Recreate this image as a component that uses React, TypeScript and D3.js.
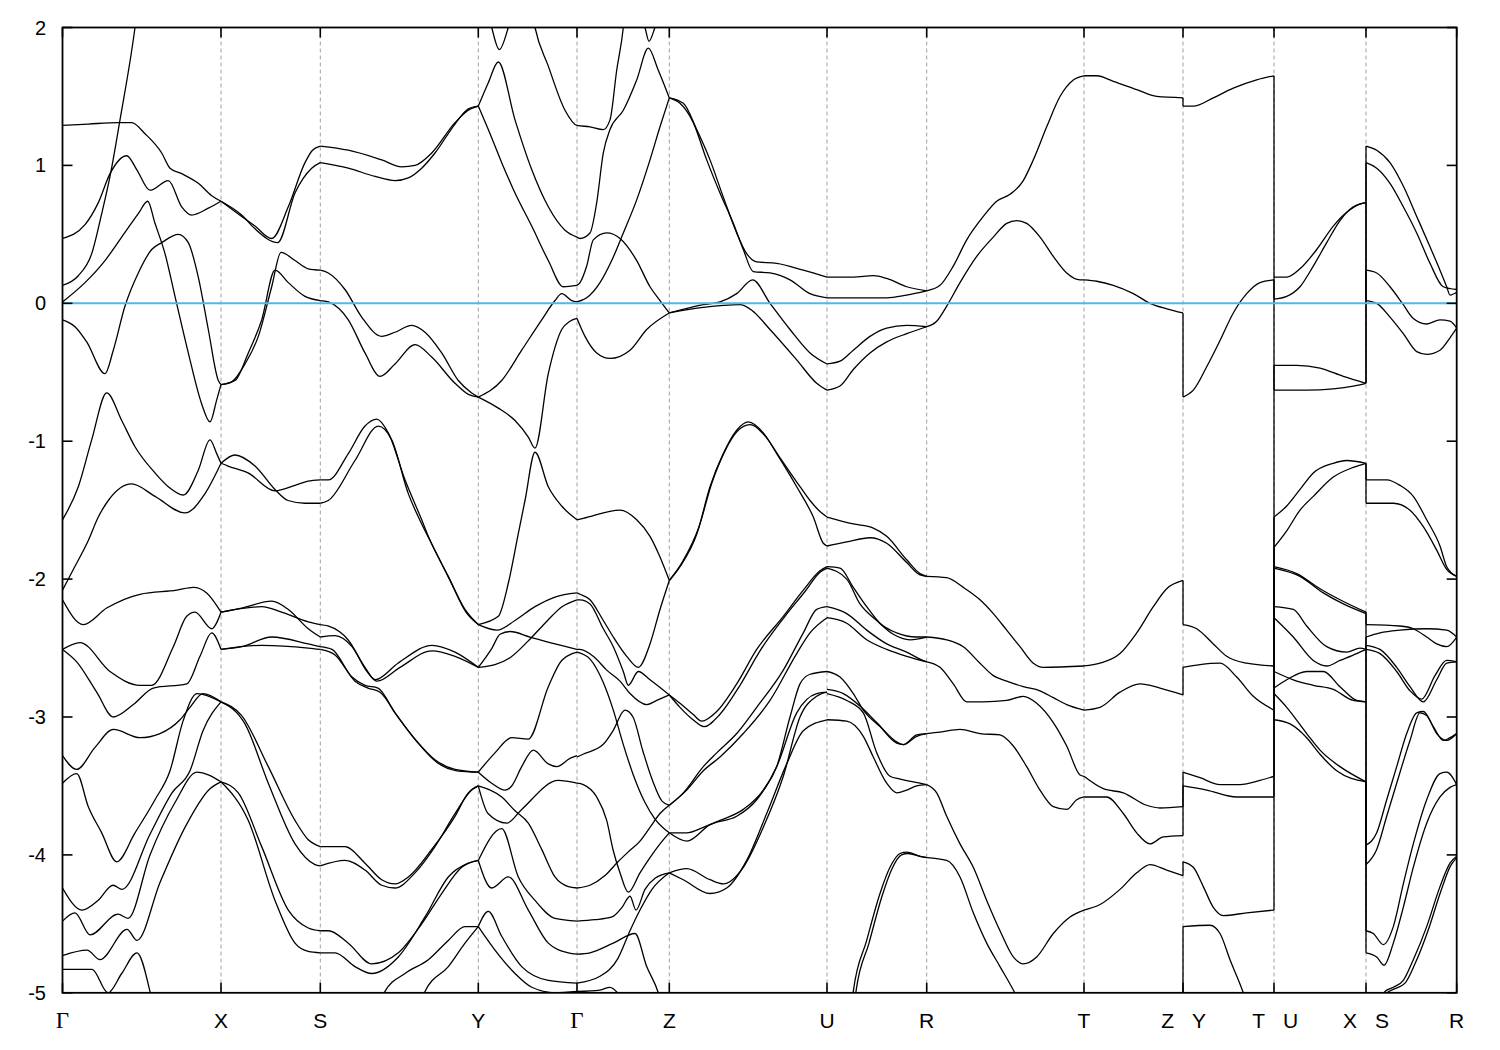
import React from 'react';
import * as d3 from 'd3';

type P = [number, number];

// high-symmetry path (k-distance) and labels
const kPoints = [0, 1.585, 2.578, 4.158, 5.145, 6.068, 7.645, 8.642, 10.215, 11.205, 12.115, 13.035, 13.942];
const kNames = ['Γ', 'X', 'S', 'Y', 'Γ', 'Z', 'U', 'R', 'T', 'Z|Y', 'T|U', 'X|S', 'R'];
const yTicks = [-5, -4, -3, -2, -1, 0, 1, 2];
const fermiLevel = 0;

// Γ - X
const bandsGX: P[][] = [
  [[0,1.29],[0.258,1.30],[0.558,1.31],[0.692,1.31],[0.825,1.23],[0.992,1.09],[1.075,0.98],[1.192,0.94],[1.358,0.87],[1.492,0.78],[1.585,0.74]],
  [[0,0.47],[0.225,0.57],[0.358,0.73],[0.475,0.94],[0.642,1.07],[0.742,0.97],[0.875,0.82],[1.058,0.89],[1.192,0.70],[1.292,0.64],[1.458,0.69],[1.585,0.74]],
  [[0,0.13],[0.158,0.20],[0.292,0.36],[0.392,0.65],[0.475,0.92],[0.575,1.33],[0.725,2.0],[0.80,2.45]],
  [[0,0.01],[0.225,0.15],[0.425,0.31],[0.592,0.48],[0.758,0.65],[0.852,0.74],[0.925,0.58],[1.025,0.36],[1.125,0.05],[1.258,-0.36],[1.392,-0.73],[1.475,-0.86],[1.542,-0.70],[1.585,-0.59]],
  [[0,-0.12],[0.125,-0.17],[0.242,-0.28],[0.425,-0.51],[0.508,-0.34],[0.625,-0.02],[0.758,0.22],[0.892,0.39],[0.992,0.44],[1.158,0.50],[1.258,0.44],[1.358,0.19],[1.458,-0.19],[1.558,-0.56],[1.585,-0.59]],
  [[0,-1.57],[0.158,-1.33],[0.292,-0.99],[0.442,-0.65],[0.592,-0.85],[0.725,-1.04],[0.925,-1.23],[1.058,-1.33],[1.208,-1.39],[1.358,-1.21],[1.475,-0.99],[1.542,-1.09],[1.585,-1.16]],
  [[0,-2.08],[0.108,-1.93],[0.258,-1.72],[0.358,-1.55],[0.458,-1.43],[0.692,-1.31],[0.925,-1.40],[1.225,-1.52],[1.425,-1.38],[1.585,-1.16]],
  [[0,-2.15],[0.208,-2.33],[0.442,-2.21],[0.775,-2.11],[1.142,-2.08],[1.308,-2.06],[1.442,-2.10],[1.585,-2.24]],
  [[0,-2.51],[0.175,-2.46],[0.475,-2.67],[0.775,-2.77],[0.892,-2.77],[1.108,-2.49],[1.242,-2.27],[1.325,-2.24],[1.492,-2.36],[1.585,-2.24]],
  [[0,-2.51],[0.142,-2.60],[0.342,-2.82],[0.508,-3.00],[0.708,-2.91],[0.908,-2.79],[1.242,-2.76],[1.375,-2.56],[1.492,-2.39],[1.585,-2.51]],
  [[0,-3.28],[0.142,-3.38],[0.325,-3.22],[0.508,-3.09],[0.775,-3.15],[0.975,-3.12],[1.175,-3.02],[1.275,-2.93],[1.405,-2.83],[1.585,-2.89]],
  [[0,-3.48],[0.142,-3.41],[0.258,-3.65],[0.392,-3.84],[0.542,-4.05],[0.725,-3.84],[0.925,-3.60],[1.075,-3.39],[1.205,-3.03],[1.345,-2.83],[1.585,-2.89]],
  [[0,-4.24],[0.195,-4.40],[0.355,-4.33],[0.505,-4.22],[0.595,-4.25],[0.875,-3.85],[1.095,-3.55],[1.275,-3.39],[1.405,-3.10],[1.585,-2.89]],
  [[0,-4.48],[0.125,-4.42],[0.275,-4.58],[0.555,-4.43],[0.655,-4.46],[0.875,-4.00],[1.125,-3.62],[1.345,-3.40],[1.585,-3.47]],
  [[0,-4.73],[0.245,-4.69],[0.375,-4.76],[0.645,-4.54],[0.745,-4.62],[0.975,-4.20],[1.225,-3.80],[1.475,-3.52],[1.585,-3.47]],
  [[0,-4.83],[0.295,-4.83],[0.455,-5.00],[0.592,-4.86],[0.745,-4.71],[0.895,-5.05],[0.975,-5.3]],
];

// X - S
const bandsXS: P[][] = [
  [[1.585,0.74],[1.792,0.63],[1.925,0.56],[2.092,0.47],[2.258,0.70],[2.425,1.02],[2.50,1.11],[2.578,1.14]],
  [[1.585,0.74],[1.792,0.64],[1.925,0.54],[2.152,0.44],[2.325,0.80],[2.492,0.98],[2.578,1.02]],
  [[1.585,-0.59],[1.692,-0.57],[1.825,-0.44],[1.958,-0.24],[2.092,0.12],[2.185,0.37],[2.325,0.31],[2.458,0.25],[2.578,0.24]],
  [[1.585,-0.59],[1.725,-0.56],[1.858,-0.36],[1.992,-0.12],[2.125,0.24],[2.258,0.15],[2.425,0.05],[2.578,0.02]],
  [[1.585,-1.16],[1.725,-1.10],[1.925,-1.18],[2.125,-1.35],[2.255,-1.43],[2.425,-1.45],[2.578,-1.45]],
  [[1.585,-1.16],[1.655,-1.18],[1.855,-1.23],[2.125,-1.36],[2.325,-1.32],[2.455,-1.29],[2.578,-1.28]],
  [[1.585,-2.24],[1.792,-2.21],[2.092,-2.16],[2.258,-2.22],[2.458,-2.36],[2.578,-2.42]],
  [[1.585,-2.24],[1.992,-2.20],[2.192,-2.24],[2.458,-2.31],[2.578,-2.33]],
  [[1.585,-2.51],[1.792,-2.49],[2.092,-2.42],[2.458,-2.47],[2.578,-2.49]],
  [[1.585,-2.51],[1.992,-2.48],[2.458,-2.50],[2.578,-2.51]],
  [[1.585,-2.89],[1.792,-2.99],[2.058,-3.36],[2.325,-3.75],[2.458,-3.89],[2.578,-3.94]],
  [[1.585,-2.89],[1.825,-3.05],[2.058,-3.48],[2.325,-3.92],[2.525,-4.07],[2.578,-4.08]],
  [[1.585,-3.47],[1.758,-3.55],[1.992,-3.94],[2.258,-4.40],[2.458,-4.53],[2.578,-4.55]],
  [[1.585,-3.47],[1.858,-3.75],[2.125,-4.33],[2.325,-4.64],[2.458,-4.70],[2.578,-4.71]],
];

// S - Y
const bandsSY: P[][] = [
  [[2.578,1.14],[2.858,1.11],[3.192,1.04],[3.392,0.99],[3.525,1.00],[3.692,1.09],[3.925,1.31],[4.058,1.40],[4.158,1.43]],
  [[2.578,1.02],[2.858,0.98],[3.125,0.92],[3.325,0.89],[3.458,0.91],[3.592,0.98],[3.725,1.09],[3.925,1.30],[4.058,1.41],[4.158,1.43]],
  [[2.578,0.24],[2.658,0.22],[2.825,0.10],[2.992,-0.10],[3.192,-0.24],[3.325,-0.21],[3.492,-0.16],[3.625,-0.21],[3.792,-0.36],[3.958,-0.56],[4.092,-0.65],[4.158,-0.68]],
  [[2.578,0.02],[2.658,0.01],[2.858,-0.12],[3.025,-0.36],[3.175,-0.53],[3.325,-0.44],[3.525,-0.30],[3.692,-0.39],[3.925,-0.58],[4.058,-0.66],[4.158,-0.68]],
  [[2.578,-1.28],[2.658,-1.28],[2.858,-1.09],[3.025,-0.89],[3.142,-0.84],[3.258,-0.94],[3.425,-1.28],[3.592,-1.57],[3.658,-1.69],[3.858,-1.98],[4.025,-2.22],[4.158,-2.33]],
  [[2.578,-1.45],[2.658,-1.43],[2.925,-1.14],[3.158,-0.89],[3.292,-0.99],[3.458,-1.38],[3.592,-1.60],[3.675,-1.72],[3.875,-2.01],[4.035,-2.24],[4.158,-2.33]],
  [[2.578,-2.33],[2.655,-2.34],[2.855,-2.44],[3.025,-2.64],[3.125,-2.73],[3.355,-2.61],[3.695,-2.48],[3.925,-2.53],[4.158,-2.64]],
  [[2.578,-2.42],[2.725,-2.41],[2.895,-2.49],[3.055,-2.68],[3.145,-2.74],[3.375,-2.64],[3.695,-2.52],[3.925,-2.56],[4.158,-2.64]],
  [[2.578,-2.49],[2.695,-2.51],[2.895,-2.71],[3.025,-2.77],[3.155,-2.79],[3.325,-2.97],[3.525,-3.16],[3.725,-3.31],[3.925,-3.38],[4.158,-3.40]],
  [[2.578,-2.51],[2.725,-2.55],[2.925,-2.74],[3.055,-2.79],[3.175,-2.82],[3.345,-2.99],[3.545,-3.18],[3.745,-3.33],[3.945,-3.39],[4.158,-3.40]],
  [[2.578,-3.94],[2.825,-3.94],[3.025,-4.06],[3.192,-4.18],[3.325,-4.21],[3.458,-4.16],[3.692,-3.96],[3.925,-3.72],[4.058,-3.55],[4.158,-3.50]],
  [[2.578,-4.08],[2.825,-4.04],[3.025,-4.11],[3.192,-4.22],[3.325,-4.24],[3.525,-4.13],[3.725,-3.94],[3.925,-3.70],[4.092,-3.53],[4.158,-3.50]],
  [[2.578,-4.55],[2.658,-4.55],[2.858,-4.64],[3.092,-4.79],[3.358,-4.71],[3.592,-4.50],[3.792,-4.28],[3.992,-4.09],[4.158,-4.04]],
  [[2.578,-4.71],[2.725,-4.71],[2.925,-4.81],[3.092,-4.86],[3.358,-4.74],[3.625,-4.45],[3.858,-4.16],[4.058,-4.06],[4.158,-4.04]],
  [[3.175,-5.1],[3.225,-4.99],[3.425,-4.86],[3.658,-4.76],[3.858,-4.62],[4.025,-4.52],[4.158,-4.52]],
  [[3.575,-5.1],[3.625,-4.99],[3.858,-4.81],[4.025,-4.64],[4.158,-4.52]],
];

// Y - Γ
const bandsYG: P[][] = [
  [[4.158,1.43],[4.258,1.26],[4.392,1.02],[4.525,0.80],[4.692,0.56],[4.858,0.31],[5.008,0.12],[5.145,0.13]],
  [[4.158,1.43],[4.258,1.60],[4.358,1.75],[4.525,1.33],[4.692,0.97],[4.858,0.70],[5.025,0.53],[5.145,0.48]],
  [[4.20,2.3],[4.292,2.0],[4.368,1.84],[4.458,2.0],[4.55,2.25]],
  [[4.675,2.2],[4.725,2.0],[4.858,1.72],[5.025,1.40],[5.145,1.29],[5.275,1.28],[5.408,1.26],[5.475,1.33],[5.542,1.69],[5.608,2.0],[5.645,2.3]],
  [[4.158,-0.68],[4.392,-0.56],[4.592,-0.34],[4.792,-0.12],[4.925,0.02],[4.992,0.07],[5.092,0.02],[5.145,0.01]],
  [[4.158,-0.68],[4.358,-0.76],[4.525,-0.85],[4.658,-0.97],[4.725,-1.05],[4.858,-0.51],[4.992,-0.19],[5.075,-0.13],[5.145,-0.11]],
  [[4.158,-2.33],[4.358,-2.27],[4.458,-2.03],[4.558,-1.67],[4.625,-1.43],[4.725,-1.08],[4.858,-1.33],[4.992,-1.47],[5.145,-1.57]],
  [[4.158,-2.33],[4.345,-2.37],[4.525,-2.30],[4.725,-2.20],[4.925,-2.13],[5.145,-2.10]],
  [[4.158,-2.64],[4.295,-2.50],[4.375,-2.40],[4.475,-2.38],[4.675,-2.42],[4.925,-2.47],[5.145,-2.51]],
  [[4.158,-2.64],[4.325,-2.62],[4.475,-2.57],[4.655,-2.45],[4.825,-2.32],[4.995,-2.20],[5.145,-2.15]],
  [[4.158,-3.40],[4.325,-3.26],[4.492,-3.15],[4.658,-3.16],[4.858,-2.78],[4.992,-2.59],[5.145,-2.53]],
  [[4.158,-3.40],[4.292,-3.48],[4.425,-3.53],[4.492,-3.50],[4.592,-3.36],[4.708,-3.24],[4.858,-3.34],[4.942,-3.36],[5.075,-3.30],[5.145,-3.28]],
  [[4.158,-3.50],[4.392,-3.58],[4.525,-3.68],[4.658,-3.77],[4.792,-3.96],[4.925,-4.16],[5.058,-4.23],[5.145,-4.24]],
  [[4.158,-3.50],[4.255,-3.70],[4.442,-3.77],[4.592,-3.67],[4.958,-3.46],[5.145,-3.48]],
  [[4.158,-4.04],[4.392,-3.81],[4.558,-4.16],[4.725,-4.33],[4.925,-4.46],[5.145,-4.48]],
  [[4.158,-4.04],[4.292,-4.24],[4.458,-4.16],[4.658,-4.40],[4.858,-4.64],[5.058,-4.71],[5.145,-4.72]],
  [[4.158,-4.52],[4.258,-4.41],[4.392,-4.59],[4.592,-4.81],[4.858,-4.91],[5.145,-4.93]],
  [[4.158,-4.52],[4.325,-4.69],[4.525,-4.86],[4.692,-4.96],[4.925,-5.0],[5.145,-4.99]],
];

// Γ - Z
const bandsGZ: P[][] = [
  [[5.76,2.15],[5.825,2.0],[5.865,1.90],[5.925,2.0],[5.99,2.12]],
  [[5.145,0.48],[5.175,0.47],[5.275,0.51],[5.342,0.73],[5.408,1.09],[5.475,1.26],[5.608,1.40],[5.742,1.62],[5.858,1.85],[5.958,1.69],[6.068,1.49]],
  [[5.145,0.13],[5.175,0.15],[5.242,0.27],[5.308,0.46],[5.442,0.51],[5.575,0.47],[5.742,0.31],[5.875,0.12],[5.975,0.02],[6.068,-0.07]],
  [[5.145,0.01],[5.242,0.04],[5.375,0.15],[5.492,0.31],[5.608,0.51],[5.742,0.75],[5.875,1.04],[5.975,1.28],[6.068,1.49]],
  [[5.145,-0.11],[5.225,-0.24],[5.342,-0.36],[5.475,-0.40],[5.675,-0.34],[5.842,-0.19],[6.068,-0.07]],
  [[5.145,-1.57],[5.208,-1.56],[5.575,-1.50],[5.742,-1.57],[5.875,-1.69],[5.975,-1.84],[6.068,-2.01]],
  [[5.145,-2.10],[5.175,-2.11],[5.275,-2.15],[5.408,-2.30],[5.508,-2.42],[5.642,-2.56],[5.758,-2.64],[5.875,-2.47],[5.975,-2.22],[6.068,-2.01]],
  [[5.145,-2.15],[5.175,-2.15],[5.275,-2.18],[5.408,-2.36],[5.508,-2.49],[5.608,-2.67],[5.658,-2.77],[5.758,-2.67],[5.875,-2.73],[6.068,-2.84]],
  [[5.145,-2.51],[5.175,-2.51],[5.308,-2.56],[5.442,-2.66],[5.575,-2.74],[5.675,-2.83],[5.842,-2.91],[5.942,-2.88],[6.068,-2.84]],
  [[5.145,-2.53],[5.275,-2.58],[5.408,-2.75],[5.508,-2.95],[5.608,-3.20],[5.708,-3.42],[5.825,-3.62],[5.925,-3.74],[6.068,-3.84]],
  [[5.145,-3.29],[5.205,-3.27],[5.405,-3.20],[5.505,-3.10],[5.625,-2.95],[5.705,-3.00],[5.805,-3.25],[5.905,-3.47],[5.995,-3.61],[6.068,-3.64]],
  [[5.145,-3.48],[5.208,-3.49],[5.342,-3.58],[5.442,-3.75],[5.508,-3.97],[5.575,-4.13],[5.658,-4.27],[5.775,-4.13],[5.875,-4.02],[5.975,-3.92],[6.068,-3.84]],
  [[5.145,-4.24],[5.275,-4.22],[5.425,-4.15],[5.555,-4.05],[5.655,-3.98],[5.775,-3.90],[5.875,-3.80],[5.975,-3.70],[6.068,-3.64]],
  [[5.145,-4.48],[5.325,-4.47],[5.495,-4.45],[5.595,-4.38],[5.675,-4.30],[5.735,-4.40],[5.825,-4.25],[5.925,-4.17],[6.068,-4.13]],
  [[5.145,-4.72],[5.275,-4.71],[5.508,-4.64],[5.725,-4.57],[5.842,-4.81],[5.958,-5.0],[6.03,-5.2]],
  [[5.145,-4.93],[5.375,-4.88],[5.555,-4.75],[5.675,-4.55],[5.775,-4.40],[5.895,-4.25],[6.068,-4.13]],
  [[5.145,-4.99],[5.375,-4.98],[5.475,-4.96],[5.575,-5.02],[5.70,-5.15]],
];

// Z - U
const bandsZU: P[][] = [
  [[6.068,1.49],[6.208,1.45],[6.342,1.26],[6.475,1.04],[6.608,0.77],[6.742,0.51],[6.842,0.36],[6.942,0.30],[7.142,0.29],[7.408,0.24],[7.645,0.19]],
  [[6.068,1.49],[6.175,1.45],[6.308,1.31],[6.442,1.04],[6.575,0.80],[6.708,0.58],[6.808,0.39],[6.908,0.23],[7.075,0.22],[7.275,0.17],[7.475,0.07],[7.645,0.04]],
  [[6.068,-0.07],[6.408,-0.01],[6.575,0.01],[6.742,0.07],[6.902,0.17],[7.075,0.0],[7.275,-0.19],[7.475,-0.36],[7.645,-0.44]],
  [[6.068,-0.07],[6.408,-0.03],[6.775,-0.01],[6.892,-0.05],[7.075,-0.19],[7.342,-0.41],[7.542,-0.58],[7.645,-0.63]],
  [[6.068,-2.01],[6.175,-1.91],[6.345,-1.67],[6.475,-1.33],[6.608,-1.09],[6.742,-0.92],[6.858,-0.86],[7.008,-0.94],[7.142,-1.09],[7.342,-1.33],[7.508,-1.55],[7.608,-1.74],[7.645,-1.76]],
  [[6.068,-2.01],[6.195,-1.88],[6.365,-1.62],[6.495,-1.30],[6.625,-1.07],[6.745,-0.93],[6.875,-0.88],[7.035,-0.97],[7.175,-1.12],[7.375,-1.33],[7.475,-1.43],[7.575,-1.51],[7.645,-1.55]],
  [[6.068,-2.84],[6.175,-2.90],[6.305,-2.98],[6.392,-3.03],[6.542,-2.96],[6.742,-2.76],[6.942,-2.51],[7.208,-2.27],[7.408,-2.08],[7.575,-1.94],[7.645,-1.91]],
  [[6.068,-2.84],[6.175,-2.93],[6.305,-3.02],[6.415,-3.07],[6.575,-2.98],[6.775,-2.77],[6.975,-2.52],[7.225,-2.27],[7.425,-2.09],[7.575,-1.95],[7.645,-1.92]],
  [[6.068,-3.64],[6.208,-3.55],[6.408,-3.36],[6.542,-3.26],[6.742,-3.12],[6.942,-2.93],[7.208,-2.66],[7.408,-2.39],[7.542,-2.22],[7.645,-2.20]],
  [[6.068,-3.64],[6.242,-3.53],[6.408,-3.39],[6.575,-3.29],[6.808,-3.12],[7.075,-2.88],[7.342,-2.54],[7.475,-2.39],[7.645,-2.28]],
  [[6.068,-3.84],[6.242,-3.84],[6.408,-3.80],[6.575,-3.75],[6.808,-3.67],[7.008,-3.53],[7.142,-3.36],[7.275,-3.00],[7.375,-2.76],[7.475,-2.69],[7.645,-2.67]],
  [[6.068,-3.84],[6.242,-3.90],[6.475,-3.78],[6.742,-3.72],[6.942,-3.60],[7.142,-3.36],[7.342,-2.97],[7.542,-2.83],[7.645,-2.82]],
  [[6.068,-4.13],[6.242,-4.10],[6.475,-4.18],[6.608,-4.21],[6.808,-4.09],[7.008,-3.80],[7.208,-3.43],[7.375,-3.00],[7.542,-2.85],[7.645,-2.82]],
  [[6.068,-4.13],[6.208,-4.18],[6.475,-4.28],[6.642,-4.24],[6.842,-4.04],[7.042,-3.70],[7.242,-3.34],[7.408,-3.10],[7.645,-3.02]],
];

// U - R
const bandsUR: P[][] = [
  [[7.645,0.19],[7.908,0.19],[8.108,0.20],[8.242,0.18],[8.442,0.12],[8.642,0.09]],
  [[7.645,0.04],[7.908,0.04],[8.242,0.04],[8.442,0.06],[8.642,0.09]],
  [[7.645,-0.44],[7.775,-0.42],[7.908,-0.34],[8.075,-0.24],[8.242,-0.18],[8.442,-0.16],[8.642,-0.17]],
  [[7.645,-0.63],[7.775,-0.60],[7.908,-0.48],[8.075,-0.36],[8.242,-0.28],[8.442,-0.22],[8.642,-0.17]],
  [[7.645,-1.55],[7.908,-1.60],[8.108,-1.63],[8.242,-1.69],[8.442,-1.86],[8.575,-1.96],[8.642,-1.98]],
  [[7.645,-1.76],[7.842,-1.73],[8.075,-1.70],[8.242,-1.74],[8.442,-1.88],[8.575,-1.97],[8.642,-1.98]],
  [[7.645,-1.91],[7.775,-1.92],[7.908,-2.06],[8.042,-2.20],[8.175,-2.32],[8.342,-2.39],[8.542,-2.42],[8.642,-2.42]],
  [[7.645,-1.92],[7.842,-2.00],[7.975,-2.18],[8.142,-2.30],[8.308,-2.40],[8.475,-2.44],[8.642,-2.42]],
  [[7.645,-2.20],[7.842,-2.25],[8.042,-2.37],[8.242,-2.47],[8.442,-2.53],[8.575,-2.58],[8.642,-2.60]],
  [[7.645,-2.28],[7.842,-2.32],[8.042,-2.44],[8.242,-2.51],[8.442,-2.56],[8.642,-2.60]],
  [[7.645,-2.67],[7.775,-2.71],[7.908,-2.83],[8.008,-2.95],[8.175,-3.07],[8.342,-3.19],[8.408,-3.20],[8.542,-3.13],[8.642,-3.12]],
  [[7.645,-2.80],[7.808,-2.83],[7.975,-2.92],[8.142,-3.04],[8.342,-3.18],[8.408,-3.20],[8.542,-3.14],[8.642,-3.12]],
  [[7.645,-2.83],[7.842,-2.88],[8.008,-2.97],[8.142,-3.26],[8.275,-3.43],[8.375,-3.45],[8.575,-3.48],[8.642,-3.49]],
  [[7.645,-3.02],[7.842,-3.03],[8.008,-3.14],[8.108,-3.29],[8.242,-3.48],[8.342,-3.55],[8.442,-3.53],[8.542,-3.50],[8.642,-3.49]],
  [[7.875,-5.2],[7.908,-4.99],[8.042,-4.62],[8.175,-4.28],[8.275,-4.09],[8.375,-3.99],[8.442,-3.98],[8.575,-4.01],[8.642,-4.02]],
  [[7.90,-5.2],[7.935,-4.99],[8.065,-4.64],[8.195,-4.30],[8.295,-4.10],[8.39,-4.00],[8.455,-3.99],[8.575,-4.01],[8.642,-4.02]],
];

// R - T
const bandsRT: P[][] = [
  [[8.642,0.09],[8.775,0.13],[8.908,0.27],[9.042,0.46],[9.208,0.63],[9.342,0.74],[9.475,0.79],[9.608,0.89],[9.708,1.04],[9.842,1.28],[9.975,1.50],[10.108,1.62],[10.215,1.65]],
  [[8.642,-0.17],[8.742,-0.13],[8.842,-0.02],[8.975,0.15],[9.142,0.34],[9.308,0.48],[9.442,0.58],[9.542,0.60],[9.642,0.58],[9.775,0.48],[9.908,0.34],[10.042,0.22],[10.175,0.17],[10.215,0.17]],
  [[8.642,-1.98],[8.842,-1.99],[9.008,-2.06],[9.175,-2.15],[9.308,-2.25],[9.442,-2.37],[9.575,-2.49],[9.708,-2.61],[9.808,-2.64],[10.215,-2.63]],
  [[8.642,-2.42],[8.842,-2.44],[9.008,-2.49],[9.175,-2.61],[9.308,-2.70],[9.442,-2.74],[9.608,-2.78],[9.775,-2.81],[9.908,-2.86],[10.042,-2.91],[10.215,-2.95]],
  [[8.642,-2.60],[8.775,-2.64],[8.908,-2.76],[9.042,-2.89],[9.208,-2.89],[9.442,-2.88],[9.608,-2.85],[9.742,-2.90],[9.908,-3.04],[10.042,-3.21],[10.175,-3.42],[10.215,-3.43]],
  [[8.642,-3.12],[8.775,-3.11],[8.975,-3.09],[9.175,-3.12],[9.375,-3.13],[9.508,-3.21],[9.642,-3.36],[9.775,-3.53],[9.908,-3.65],[10.042,-3.67],[10.142,-3.60],[10.215,-3.58]],
  [[8.642,-3.49],[8.742,-3.55],[8.842,-3.72],[8.975,-3.92],[9.108,-4.09],[9.242,-4.33],[9.375,-4.55],[9.508,-4.74],[9.608,-4.79],[9.742,-4.74],[9.908,-4.57],[10.075,-4.45],[10.215,-4.40]],
  [[8.642,-4.02],[8.842,-4.04],[8.975,-4.16],[9.108,-4.42],[9.242,-4.64],[9.375,-4.81],[9.508,-4.98],[9.625,-5.15]],
];

// T - Z | Y - T  (repeated k = discontinuity)
const bandsTZYT: P[][] = [
  [[10.215,1.65],[10.342,1.65],[10.508,1.61],[10.742,1.55],[10.942,1.50],[11.205,1.49],[11.205,1.43],[11.308,1.43],[11.508,1.49],[11.708,1.56],[11.942,1.62],[12.115,1.65]],
  [[10.215,0.17],[10.342,0.16],[10.508,0.13],[10.708,0.07],[10.875,0.0],[11.042,-0.04],[11.205,-0.07],[11.205,-0.68],[11.308,-0.63],[11.442,-0.46],[11.575,-0.27],[11.708,-0.07],[11.842,0.07],[11.975,0.15],[12.115,0.17]],
  [[10.215,-2.63],[10.375,-2.61],[10.575,-2.54],[10.742,-2.39],[10.908,-2.20],[11.042,-2.07],[11.205,-2.01],[11.205,-2.33],[11.342,-2.36],[11.508,-2.47],[11.642,-2.56],[11.842,-2.61],[12.115,-2.63]],
  [[10.215,-2.95],[10.375,-2.93],[10.575,-2.82],[10.775,-2.76],[10.975,-2.79],[11.205,-2.84],[11.205,-2.64],[11.375,-2.62],[11.575,-2.61],[11.742,-2.71],[11.908,-2.85],[12.115,-2.95]],
  [[10.215,-3.43],[10.408,-3.52],[10.608,-3.55],[10.842,-3.64],[10.975,-3.66],[11.205,-3.65],[11.205,-3.40],[11.375,-3.44],[11.575,-3.49],[11.775,-3.49],[11.975,-3.46],[12.115,-3.43]],
  [[10.215,-3.58],[10.442,-3.58],[10.608,-3.70],[10.742,-3.84],[10.875,-3.92],[11.008,-3.87],[11.205,-3.86],[11.205,-3.50],[11.442,-3.53],[11.742,-3.58],[12.115,-3.58]],
  [[10.215,-4.40],[10.375,-4.36],[10.575,-4.25],[10.742,-4.13],[10.875,-4.07],[11.042,-4.11],[11.205,-4.15],[11.205,-4.05],[11.308,-4.09],[11.408,-4.23],[11.508,-4.38],[11.608,-4.44],[11.842,-4.42],[12.115,-4.40]],
  [[11.205,-5.3],[11.205,-4.52],[11.475,-4.51],[11.575,-4.57],[11.675,-4.76],[11.808,-5.0],[11.875,-5.15]],
];

// U - X
const bandsUX: P[][] = [
  [[12.115,0.19],[12.242,0.19],[12.375,0.25],[12.542,0.39],[12.708,0.56],[12.842,0.66],[12.975,0.72],[13.035,0.73]],
  [[12.115,0.03],[12.242,0.05],[12.375,0.12],[12.508,0.27],[12.642,0.44],[12.775,0.60],[12.908,0.70],[13.035,0.73]],
  [[12.115,-0.45],[12.342,-0.45],[12.575,-0.47],[12.808,-0.53],[13.035,-0.58]],
  [[12.115,-0.63],[12.442,-0.63],[12.708,-0.62],[12.908,-0.60],[13.035,-0.58]],
  [[12.115,-1.55],[12.242,-1.47],[12.375,-1.35],[12.508,-1.23],[12.708,-1.16],[12.842,-1.14],[13.035,-1.16]],
  [[12.115,-1.77],[12.242,-1.65],[12.375,-1.50],[12.508,-1.40],[12.708,-1.26],[12.908,-1.19],[13.035,-1.16]],
  [[12.115,-1.91],[12.342,-1.96],[12.575,-2.07],[12.775,-2.15],[13.035,-2.24]],
  [[12.115,-1.92],[12.375,-1.98],[12.608,-2.10],[12.808,-2.18],[13.035,-2.25]],
  [[12.115,-2.20],[12.308,-2.22],[12.442,-2.34],[12.642,-2.49],[12.842,-2.53],[12.975,-2.50],[13.035,-2.51]],
  [[12.115,-2.28],[12.308,-2.42],[12.508,-2.59],[12.642,-2.63],[12.775,-2.59],[12.942,-2.54],[13.035,-2.51]],
  [[12.115,-2.79],[12.242,-2.73],[12.442,-2.67],[12.608,-2.67],[12.775,-2.78],[12.942,-2.88],[13.035,-2.89]],
  [[12.115,-2.67],[12.308,-2.73],[12.508,-2.77],[12.708,-2.80],[12.908,-2.88],[13.035,-2.89]],
  [[12.115,-2.83],[12.242,-2.93],[12.442,-3.12],[12.575,-3.24],[12.775,-3.36],[13.035,-3.47]],
  [[12.115,-3.02],[12.275,-3.05],[12.442,-3.15],[12.575,-3.27],[12.742,-3.39],[13.035,-3.47]],
];

// S - R
const bandsSR: P[][] = [
  [[13.035,1.14],[13.142,1.11],[13.275,1.02],[13.408,0.85],[13.542,0.63],[13.675,0.41],[13.775,0.24],[13.842,0.12],[13.875,0.06],[13.942,0.08]],
  [[13.035,1.02],[13.142,0.98],[13.275,0.87],[13.408,0.70],[13.542,0.51],[13.675,0.29],[13.808,0.12],[13.942,0.10]],
  [[13.035,0.24],[13.142,0.22],[13.275,0.12],[13.408,-0.01],[13.508,-0.11],[13.642,-0.15],[13.775,-0.12],[13.875,-0.13],[13.942,-0.18]],
  [[13.035,0.02],[13.142,0.0],[13.275,-0.10],[13.408,-0.22],[13.542,-0.35],[13.642,-0.37],[13.775,-0.34],[13.875,-0.25],[13.942,-0.18]],
  [[13.035,-1.28],[13.242,-1.28],[13.375,-1.32],[13.508,-1.40],[13.642,-1.57],[13.775,-1.76],[13.842,-1.91],[13.942,-1.98]],
  [[13.035,-1.45],[13.308,-1.45],[13.475,-1.50],[13.608,-1.62],[13.742,-1.79],[13.842,-1.93],[13.942,-1.98]],
  [[13.035,-2.33],[13.375,-2.34],[13.508,-2.36],[13.642,-2.42],[13.742,-2.47],[13.842,-2.49],[13.942,-2.42]],
  [[13.035,-2.42],[13.175,-2.39],[13.375,-2.37],[13.642,-2.36],[13.842,-2.37],[13.942,-2.42]],
  [[13.035,-2.48],[13.175,-2.51],[13.342,-2.64],[13.475,-2.78],[13.608,-2.89],[13.742,-2.73],[13.842,-2.61],[13.942,-2.60]],
  [[13.035,-2.51],[13.175,-2.54],[13.342,-2.67],[13.475,-2.81],[13.592,-2.87],[13.725,-2.70],[13.842,-2.59],[13.942,-2.60]],
  [[13.035,-3.93],[13.142,-3.84],[13.242,-3.60],[13.342,-3.36],[13.442,-3.12],[13.542,-2.97],[13.608,-2.96],[13.708,-3.07],[13.808,-3.17],[13.875,-3.15],[13.942,-3.12]],
  [[13.035,-4.07],[13.142,-3.96],[13.242,-3.72],[13.342,-3.48],[13.475,-3.17],[13.575,-2.97],[13.642,-2.99],[13.742,-3.12],[13.842,-3.17],[13.942,-3.12]],
  [[13.035,-4.55],[13.108,-4.57],[13.208,-4.65],[13.308,-4.52],[13.408,-4.21],[13.508,-3.92],[13.642,-3.60],[13.775,-3.41],[13.842,-3.40],[13.942,-3.49]],
  [[13.035,-4.71],[13.142,-4.74],[13.215,-4.80],[13.308,-4.64],[13.408,-4.38],[13.508,-4.09],[13.642,-3.77],[13.775,-3.58],[13.875,-3.51],[13.942,-3.49]],
  [[13.175,-5.1],[13.225,-4.99],[13.308,-4.96],[13.408,-4.91],[13.508,-4.76],[13.642,-4.52],[13.775,-4.23],[13.875,-4.06],[13.942,-4.01]],
  [[13.195,-5.1],[13.245,-5.0],[13.325,-4.97],[13.425,-4.93],[13.525,-4.79],[13.655,-4.55],[13.785,-4.26],[13.88,-4.08],[13.942,-4.02]],
];

// band discontinuities at T|U and X|S : [energy before, energy after]
const jumpsTU: P[] = [[1.65,0.03],[0.17,-0.63],[-2.63,-0.45],[-2.95,-1.55],[-3.43,-1.77],[-3.58,-1.91],[-4.40,-2.20]];
const jumpsXS: P[] = [[0.73,1.14],[0.73,0.02],[-0.58,0.24],[-0.58,1.02],[-1.16,-1.28],[-1.16,-1.45],[-2.24,-2.33],[-2.24,-2.51],[-2.51,-2.42],[-2.51,-3.93],[-2.89,-4.07],[-2.89,-2.48],[-3.47,-4.55],[-3.47,-4.71]];

const W = 1500;
const H = 1050;
const M = { left: 62.5, right: 43.3, top: 27.5, bottom: 57.2 };

export default function App() {
  const x = d3.scaleLinear().domain([kPoints[0], kPoints[kPoints.length - 1]]).range([M.left, W - M.right]);
  const y = d3.scaleLinear().domain([-5, 2]).range([H - M.bottom, M.top]);
  const line = d3.line<P>().x(d => x(d[0])).y(d => y(d[1])).curve(d3.curveMonotoneX);

  const allBands = [...bandsGX, ...bandsXS, ...bandsSY, ...bandsYG, ...bandsGZ, ...bandsZU, ...bandsUR, ...bandsRT, ...bandsTZYT, ...bandsUX, ...bandsSR];

  const runs: P[][] = [];
  const jumps: [number, number, number][] = [];
  allBands.forEach(b => {
    let cur: P[] = [b[0]];
    for (let i = 1; i < b.length; i++) {
      if (Math.abs(b[i][0] - b[i - 1][0]) < 1e-6) {
        if (cur.length > 1) runs.push(cur);
        jumps.push([b[i][0], b[i - 1][1], b[i][1]]);
        cur = [b[i]];
      } else cur.push(b[i]);
    }
    if (cur.length > 1) runs.push(cur);
  });
  jumpsTU.forEach(j => jumps.push([kPoints[10], j[0], j[1]]));
  jumpsXS.forEach(j => jumps.push([kPoints[11], j[0], j[1]]));

  const x0 = x.range()[0], x1 = x.range()[1];
  const y0 = y.range()[1], y1 = y.range()[0];
  const sans = '"Liberation Sans", Arial, Helvetica, sans-serif';
  const serif = '"Liberation Serif", "Times New Roman", "DejaVu Serif", serif';

  return (
    <svg width={W} height={H} style={{ position: 'absolute', left: 0, top: 0, background: '#fff' }}>
      <defs>
        <clipPath id="plotClip">
          <rect x={x0} y={y0} width={x1 - x0} height={y1 - y0} />
        </clipPath>
      </defs>
      <rect x={0} y={0} width={W} height={H} fill="#fff" />
      {kPoints.slice(1, -1).map((k, i) => (
        <line key={'g' + i} x1={x(k)} x2={x(k)} y1={y0} y2={y1} stroke="#a0a0a0" strokeWidth={1} strokeDasharray="4,3" />
      ))}
      <g clipPath="url(#plotClip)">
        {runs.map((r, i) => (
          <path key={'b' + i} d={line(r) || ''} fill="none" stroke="#000" strokeWidth={1.3} strokeLinejoin="round" />
        ))}
        {jumps.map((j, i) => (
          <line key={'j' + i} x1={x(j[0])} x2={x(j[0])} y1={y(j[1])} y2={y(j[2])} stroke="#000" strokeWidth={1.3} />
        ))}
        <line x1={x0} x2={x1} y1={y(fermiLevel)} y2={y(fermiLevel)} stroke="#56b4e9" strokeWidth={2} />
      </g>
      <rect x={x0} y={y0} width={x1 - x0} height={y1 - y0} fill="none" stroke="#000" strokeWidth={1.8} />
      {yTicks.map(t => (
        <g key={'yt' + t}>
          <line x1={x0} x2={x0 + 10} y1={y(t)} y2={y(t)} stroke="#000" strokeWidth={1.6} />
          <line x1={x1 - 10} x2={x1} y1={y(t)} y2={y(t)} stroke="#000" strokeWidth={1.6} />
          <text x={46} y={y(t) + 7} textAnchor="end" fontFamily={sans} fontSize={20} fill="#000">{t}</text>
        </g>
      ))}
      {kPoints.map((k, i) => (
        <g key={'xt' + i}>
          <line x1={x(k)} x2={x(k)} y1={y0} y2={y0 + 10} stroke="#000" strokeWidth={1.6} />
          <line x1={x(k)} x2={x(k)} y1={y1 - 10} y2={y1} stroke="#000" strokeWidth={1.6} />
        </g>
      ))}
      {kNames.map((name, i) => {
        const px = x(kPoints[i]);
        const ty = 1028;
        if (name.includes('|')) {
          const [a, b] = name.split('|');
          return (
            <g key={'xl' + i}>
              <text x={px - 9} y={ty} textAnchor="end" fontFamily={sans} fontSize={21} fill="#000">{a}</text>
              <text x={px + 9} y={ty} textAnchor="start" fontFamily={sans} fontSize={21} fill="#000">{b}</text>
            </g>
          );
        }
        const isGreek = name === 'Γ';
        return (
          <text key={'xl' + i} x={px} y={ty} textAnchor="middle" fontFamily={isGreek ? serif : sans} fontSize={isGreek ? 23 : 21} fill="#000">{name}</text>
        );
      })}
    </svg>
  );
}
